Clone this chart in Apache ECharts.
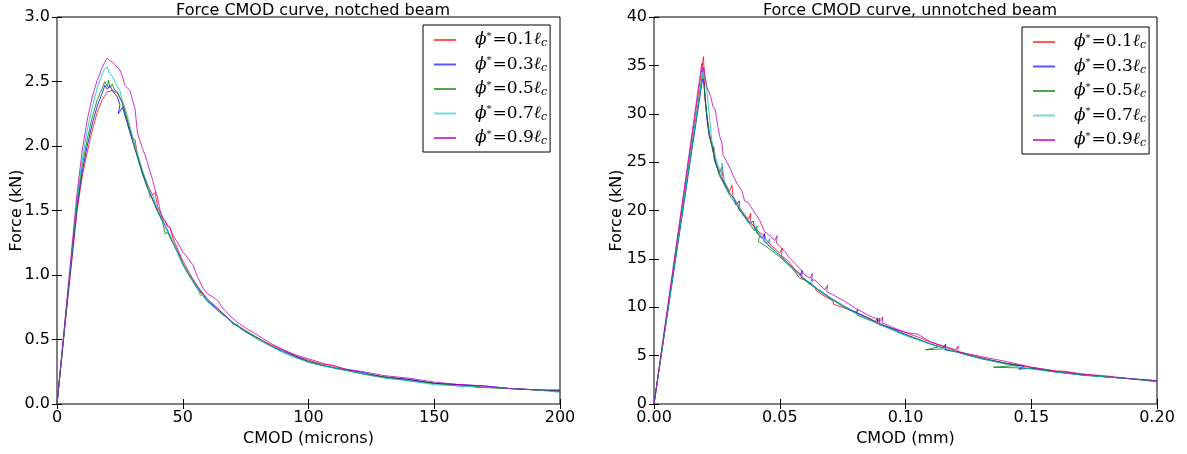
<!DOCTYPE html>
<html><head><meta charset="utf-8">
<script src="https://cdn.jsdelivr.net/npm/echarts@6/dist/echarts.min.js"></script>
<style>html,body{margin:0;padding:0;background:#fff}#c{width:1187px;height:454px}</style>
</head><body><div id="c"></div>
<script>
// ---------- data ----------
const titles = ['Force CMOD curve, notched beam', 'Force CMOD curve, unnotched beam'];
const xNames = ['CMOD (microns)', 'CMOD (mm)'];
const yName = 'Force (kN)';
const phiValues = ['0.1', '0.3', '0.5', '0.7', '0.9'];
const colors = ['#ff0000', '#0000ff', '#008000', '#00bfbf', '#bf00bf'];
const legendColors = ['rgba(255,0,0,0.65)', 'rgba(0,0,255,0.65)', 'rgba(0,128,0,0.7)', 'rgba(0,191,191,0.55)', 'rgba(191,0,191,0.75)'];
const leftXTicks = [0, 200, 50];
const leftYTicks = [0, 3, 0.5];
const rightXTicks = [0, 0.2, 0.05];
const rightYTicks = [0, 40, 5];

// notched beam: [CMOD microns, force kN]
const notched01 = [[0,0],[2,0.38],[4,0.76],[6,1.13],[8,1.50],[10,1.76],[12,1.95],[14,2.12],[16,2.26],[18,2.36],[20,2.42],[22,2.43],[24,2.41],[26,2.34],[28,2.20],[30,2.06],[31,2.05],[32,1.93],[34,1.80],[36,1.70],[38,1.62],[39,1.64],[40,1.53],[42,1.45],[44,1.38],[45,1.37],[46,1.29],[48,1.20],[50,1.11],[52,1.04],[54,0.97],[56,0.91],[58,0.86],[60,0.81],[63,0.76],[66,0.70],[70,0.63],[75,0.57],[80,0.51],[85,0.46],[90,0.42],[95,0.37],[100,0.34],[105,0.31],[110,0.30],[113,0.28],[120,0.24],[125,0.22],[130,0.21],[140,0.19],[150,0.16],[160,0.15],[170,0.13],[180,0.12],[190,0.11],[200,0.10]];
const notched03 = [[0,0],[2,0.39],[4,0.78],[6,1.16],[8,1.53],[10,1.80],[12,2.00],[14,2.17],[16,2.31],[18,2.41],[19,2.47],[20,2.44],[21,2.47],[22,2.43],[24,2.38],[25,2.32],[24.4,2.25],[26,2.30],[27,2.24],[28,2.17],[30,2.04],[32,1.92],[34,1.79],[36,1.68],[38,1.59],[40,1.50],[42,1.42],[44,1.34],[46,1.26],[48,1.18],[50,1.09],[52,1.02],[54,0.96],[56,0.90],[58,0.85],[60,0.80],[63,0.75],[66,0.70],[70,0.63],[75,0.56],[80,0.51],[85,0.45],[90,0.41],[95,0.37],[100,0.33],[105,0.30],[110,0.28],[120,0.25],[130,0.21],[140,0.19],[150,0.16],[160,0.15],[170,0.14],[180,0.12],[190,0.11],[200,0.10]];
const notched05 = [[0,0],[2,0.39],[4,0.79],[6,1.18],[8,1.56],[10,1.84],[12,2.05],[14,2.22],[16,2.36],[18,2.45],[19,2.50],[20,2.46],[20.5,2.51],[21,2.45],[22,2.48],[23,2.43],[24,2.42],[26,2.33],[28,2.19],[30,2.05],[32,1.91],[34,1.78],[36,1.67],[38,1.58],[40,1.49],[42,1.41],[43,1.32],[44,1.33],[46,1.25],[48,1.17],[50,1.08],[52,1.01],[54,0.95],[56,0.89],[58,0.84],[60,0.79],[62,0.76],[64,0.72],[67,0.68],[70,0.62],[72,0.60],[75,0.56],[80,0.50],[85,0.45],[90,0.40],[95,0.36],[100,0.33],[110,0.28],[120,0.24],[130,0.21],[140,0.18],[150,0.16],[160,0.14],[165,0.14],[166,0.13],[180,0.12],[190,0.11],[200,0.10]];
const notched07 = [[0,0],[2,0.40],[4,0.80],[6,1.20],[8,1.59],[10,1.89],[12,2.12],[14,2.30],[16,2.45],[18,2.56],[19,2.60],[20,2.61],[21,2.56],[22,2.54],[24,2.46],[25,2.43],[26,2.35],[27,2.30],[28,2.23],[30,2.08],[32,1.94],[34,1.81],[36,1.70],[37,1.60],[38,1.62],[40,1.51],[42,1.43],[44,1.35],[46,1.26],[48,1.17],[50,1.09],[52,1.02],[54,0.96],[56,0.89],[57,0.84],[58,0.85],[60,0.79],[63,0.74],[66,0.69],[70,0.63],[72,0.61],[73,0.58],[75,0.57],[80,0.51],[85,0.45],[90,0.40],[95,0.36],[100,0.32],[110,0.28],[120,0.24],[130,0.20],[140,0.18],[150,0.15],[160,0.14],[170,0.13],[180,0.12],[190,0.11],[200,0.09]];
const notched09 = [[0,0],[2,0.41],[4,0.82],[6,1.23],[8,1.64],[10,1.96],[12,2.20],[14,2.38],[16,2.51],[18,2.61],[19,2.65],[20,2.68],[21,2.66],[22,2.65],[24,2.61],[25,2.59],[26,2.54],[27,2.47],[28,2.45],[29,2.43],[30,2.36],[31,2.29],[32,2.10],[33,2.04],[34,1.98],[35,1.93],[36,1.87],[37,1.80],[38,1.74],[39,1.66],[40,1.60],[41,1.50],[42,1.44],[43,1.42],[44,1.38],[45,1.36],[46,1.31],[48,1.25],[50,1.18],[52,1.13],[54,1.08],[56,0.98],[58,0.90],[60,0.85],[62,0.83],[64,0.80],[66,0.74],[68,0.70],[70,0.66],[72,0.63],[75,0.59],[80,0.53],[85,0.47],[90,0.42],[95,0.38],[100,0.35],[105,0.32],[110,0.29],[115,0.27],[122,0.25],[130,0.22],[140,0.20],[150,0.17],[160,0.15],[170,0.14],[180,0.12],[190,0.11],[200,0.11]];

// unnotched beam: [CMOD mm, force kN]
const unnotched01 = [[0,0],[0.0197,35.9],[0.0203,31.5],[0.021,30.0],[0.022,28.0],[0.0235,26.0],[0.0238,26.6],[0.024,25.4],[0.026,23.9],[0.027,24.5],[0.0275,23.2],[0.03,22.0],[0.031,22.6],[0.0315,21.4],[0.034,20.3],[0.036,19.6],[0.0375,19.1],[0.0385,19.7],[0.0382,18.8],[0.04,18.3],[0.042,17.7],[0.044,17.4],[0.0445,17.0],[0.047,16.3],[0.05,15.6],[0.051,16.1],[0.0507,15.3],[0.053,14.9],[0.056,13.9],[0.058,13.5],[0.0585,13.1],[0.062,12.4],[0.064,12.1],[0.0645,11.7],[0.068,11.1],[0.071,10.7],[0.0715,10.3],[0.076,9.9],[0.082,9.3],[0.089,8.4],[0.0898,8.9],[0.0895,8.2],[0.095,7.8],[0.1,7.4],[0.105,6.9],[0.11,6.4],[0.12,5.5],[0.13,4.8],[0.14,4.2],[0.15,3.8],[0.16,3.4],[0.163,3.4],[0.17,3.1],[0.18,2.8],[0.19,2.6],[0.2,2.4]];
const unnotched03 = [[0,0],[0.0193,33.6],[0.0198,33.2],[0.021,29.5],[0.022,27.6],[0.0235,26.5],[0.024,25.2],[0.026,23.8],[0.03,21.8],[0.032,21.2],[0.0325,20.6],[0.033,20.4],[0.034,21.0],[0.0337,20.1],[0.035,19.8],[0.038,18.7],[0.0395,18.9],[0.04,18.1],[0.043,17.1],[0.044,17.6],[0.0437,16.8],[0.045,16.5],[0.05,15.4],[0.055,14.1],[0.058,13.3],[0.059,13.8],[0.0587,13.1],[0.06,12.9],[0.065,11.9],[0.07,11.0],[0.075,10.2],[0.08,9.5],[0.085,8.9],[0.088,8.5],[0.089,8.9],[0.0887,8.3],[0.09,8.3],[0.1,7.2],[0.11,6.2],[0.115,5.8],[0.116,6.2],[0.1157,5.6],[0.12,5.4],[0.13,4.7],[0.14,4.2],[0.147,3.9],[0.145,3.6],[0.15,3.7],[0.16,3.3],[0.17,3.0],[0.18,2.8],[0.19,2.6],[0.2,2.4]];
const unnotched05 = [[0,0],[0.0193,34.2],[0.0197,33.5],[0.021,29.8],[0.022,27.8],[0.024,25.6],[0.026,23.6],[0.03,21.6],[0.033,20.5],[0.036,19.3],[0.04,17.9],[0.041,18.4],[0.0407,17.7],[0.042,17.4],[0.0415,16.8],[0.045,16.2],[0.05,15.2],[0.055,14.0],[0.058,13.0],[0.06,12.8],[0.065,11.8],[0.07,10.9],[0.075,10.1],[0.08,9.4],[0.081,9.8],[0.0807,9.2],[0.09,8.2],[0.1,7.1],[0.11,6.2],[0.113,5.9],[0.108,5.6],[0.115,5.7],[0.12,5.4],[0.13,4.7],[0.14,4.2],[0.145,4.0],[0.135,3.8],[0.15,3.7],[0.16,3.3],[0.165,3.2],[0.17,3.0],[0.18,2.8],[0.19,2.6],[0.2,2.3]];
const unnotched07 = [[0,0],[0.0195,34.5],[0.0205,33.3],[0.021,32.5],[0.0223,29.0],[0.023,27.2],[0.025,25.0],[0.027,23.6],[0.027,24.9],[0.028,23.0],[0.03,21.9],[0.034,20.3],[0.038,18.8],[0.04,18.2],[0.045,16.6],[0.046,17.1],[0.0457,16.4],[0.05,15.3],[0.055,14.0],[0.06,12.9],[0.062,12.5],[0.063,13.0],[0.0627,12.3],[0.065,11.9],[0.07,11.0],[0.08,9.4],[0.09,8.2],[0.1,7.1],[0.11,6.2],[0.12,5.4],[0.13,4.7],[0.14,4.1],[0.15,3.6],[0.16,3.3],[0.17,3.0],[0.18,2.8],[0.19,2.6],[0.2,2.3]];
const unnotched09 = [[0,0],[0.019,35.2],[0.0193,34.3],[0.0198,34.8],[0.021,32.8],[0.0225,31.8],[0.0235,30.7],[0.0243,30.5],[0.0255,28.5],[0.0262,27.6],[0.027,27.0],[0.0275,25.7],[0.028,25.6],[0.029,25.0],[0.0305,24.2],[0.0315,23.6],[0.033,22.8],[0.035,22.0],[0.036,21.0],[0.0375,20.8],[0.0395,20.0],[0.042,19.0],[0.044,17.8],[0.0465,17.3],[0.048,16.9],[0.049,17.4],[0.0487,16.6],[0.05,16.3],[0.052,15.8],[0.0535,15.2],[0.055,14.8],[0.058,14.0],[0.06,13.3],[0.062,13.0],[0.063,13.5],[0.0627,12.8],[0.064,12.8],[0.068,11.8],[0.069,12.3],[0.0687,11.6],[0.071,11.3],[0.076,10.6],[0.08,9.9],[0.085,9.2],[0.09,8.6],[0.091,9.0],[0.0907,8.4],[0.095,7.9],[0.1,7.4],[0.105,7.2],[0.11,6.4],[0.12,5.6],[0.121,6.0],[0.1207,5.4],[0.13,4.9],[0.14,4.4],[0.15,3.8],[0.16,3.4],[0.17,3.1],[0.18,2.9],[0.19,2.6],[0.2,2.4]];

const notchedSets = [notched01, notched03, notched05, notched07, notched09];
const unnotchedSets = [unnotched01, unnotched03, unnotched05, unnotched07, unnotched09];

// ---------- chart ----------
const FONT = 'DejaVu Sans';
const FS = 16;
const seriesNames = phiValues.map(v => 'phi' + v);

function axisPair(gridIndex, ticks, fmt, isX) {
  const base = {
    type: 'value', gridIndex, min: ticks[0], max: ticks[1], interval: ticks[2],
    splitLine: { show: false },
    axisLine: { show: false },
    axisTick: { show: true, inside: true, length: 5, lineStyle: { color: '#000', width: 1 } }
  };
  const main = Object.assign({}, base, {
    position: isX ? 'bottom' : 'left',
    axisLabel: { show: true, color: '#000', fontFamily: FONT, fontSize: FS, margin: isX ? 6 : 7, formatter: fmt }
  });
  const other = Object.assign({}, base, {
    position: isX ? 'top' : 'right',
    axisLabel: { show: false }
  });
  return [main, other];
}

const xAxes = [
  ...axisPair(0, leftXTicks, v => String(v), true),
  ...axisPair(1, rightXTicks, v => v.toFixed(2), true)
];
const yAxes = [
  ...axisPair(0, leftYTicks, v => v.toFixed(1), false),
  ...axisPair(1, rightYTicks, v => String(v), false)
];
xAxes[0].name = xNames[0]; xAxes[2].name = xNames[1];
yAxes[0].name = yName; yAxes[2].name = yName;
[xAxes[0], xAxes[2]].forEach(a => { a.nameLocation = 'middle'; a.nameGap = 27; a.nameMoveOverlap = false; a.nameTextStyle = { fontFamily: FONT, fontSize: FS, color: '#000' }; });
yAxes[0].nameGap = 32; yAxes[2].nameGap = 29;
[yAxes[0], yAxes[2]].forEach(a => { a.nameLocation = 'middle'; a.nameRotate = 90; a.nameMoveOverlap = false; a.nameTextStyle = { fontFamily: FONT, fontSize: FS, color: '#000' }; });

const series = [];
notchedSets.forEach((d, i) => series.push({
  name: seriesNames[i], type: 'line', xAxisIndex: 0, yAxisIndex: 0, data: d,
  showSymbol: false, symbol: 'none', clip: true, silent: true,
  lineStyle: { color: colors[i], width: 1, opacity: 0.8 }, itemStyle: { color: legendColors[i] }
}));
unnotchedSets.forEach((d, i) => series.push({
  name: seriesNames[i], type: 'line', xAxisIndex: 2, yAxisIndex: 2, data: d,
  showSymbol: false, symbol: 'none', clip: true, silent: true,
  lineStyle: { color: colors[i], width: 1, opacity: 0.8 }, itemStyle: { color: legendColors[i] }
}));

const rich = {
  m: { fontFamily: 'DejaVu Serif', fontStyle: 'italic', fontSize: 17, color: '#000' },
  s: { fontFamily: 'DejaVu Serif', fontSize: 10, color: '#000', verticalAlign: 'top', padding: [0, 1, 8, 0] },
  n: { fontFamily: 'DejaVu Serif', fontSize: 17, color: '#000' },
  sub: { fontFamily: 'DejaVu Serif', fontStyle: 'italic', fontSize: 11, color: '#000', verticalAlign: 'bottom', padding: [6, 0, 0, 0] }
};
function legendFmt(name) {
  const v = name.replace('phi', '');
  return '{m|ϕ}{s|*}{n|=' + v + '}{m|ℓ}{sub|c}';
}
function legend(left, top) {
  return {
    data: seriesNames, orient: 'vertical', left, top,
    itemWidth: 22, itemHeight: 14, itemGap: 6.5,
    padding: [6, 3, 5, 11],
    borderColor: '#000', borderWidth: 1, backgroundColor: '#fff',
    selectedMode: false,
    icon: 'path://M0,6 L22,6 L22,8 L0,8 Z',
    textStyle: { rich, fontSize: 17, padding: [0, 0, 0, 14], lineHeight: 18 },
    formatter: legendFmt
  };
}

const option = {
  animation: false,
  backgroundColor: '#fff',
  title: [
    { text: titles[0], left: 308, top: -2, textAlign: 'center', textStyle: { fontFamily: FONT, fontSize: FS, fontWeight: 'normal', color: '#000' } },
    { text: titles[1], left: 905, top: -2, textAlign: 'center', textStyle: { fontFamily: FONT, fontSize: FS, fontWeight: 'normal', color: '#000' } }
  ],
  grid: [
    { left: 57, right: 627, top: 17, bottom: 50, show: true, borderColor: '#000', borderWidth: 1, backgroundColor: 'transparent' },
    { left: 654, right: 30, top: 17, bottom: 50, show: true, borderColor: '#000', borderWidth: 1, backgroundColor: 'transparent' }
  ],
  legend: [legend(423, 25), legend(1022, 27)],
  xAxis: xAxes,
  yAxis: yAxes,
  series
};
const chart = echarts.init(document.getElementById('c'), null, { renderer: 'canvas' });
chart.setOption(option);
</script></body></html>
